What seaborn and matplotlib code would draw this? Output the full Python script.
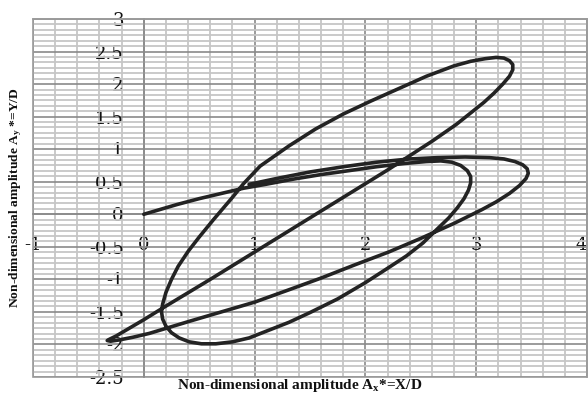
import matplotlib
matplotlib.use("Agg")
import matplotlib.pyplot as plt
import pandas as pd
import seaborn as sns
from matplotlib.ticker import FixedLocator, FixedFormatter, AutoMinorLocator
from matplotlib.patches import Rectangle

# Trajectory (in drawing order)
x_vals = [0, 0.15, 0.3, 0.5, 0.7, 0.9, 1.1, 1.35, 1.6, 1.85, 2.1, 2.35, 2.55, 2.68, 2.78, 2.86, 2.92, 2.95,
          2.95, 2.93, 2.89, 2.83, 2.75, 2.64, 2.52, 2.37, 2.2, 2.0, 1.75, 1.5, 1.31, 1.1, 0.95, 0.8, 0.65,
          0.52, 0.41, 0.32, 0.25, 0.2, 0.17, 0.16, 0.17, 0.2, 0.25, 0.31, 0.4, 0.5, 0.63, 0.8, 0.9, 1.05,
          1.31, 1.55, 1.8, 2.05, 2.3, 2.55, 2.8, 2.95, 3.08, 3.18, 3.25, 3.3, 3.33, 3.33, 3.3, 3.24, 3.16,
          3.07, 2.96, 2.82, 2.6, 2.2, 1.8, 1.4, 1.0, 0.6, 0.2, 0.0, -0.15, -0.25, -0.31, -0.33, -0.3, -0.22,
          -0.1, 0.05, 0.4, 0.7, 1.0, 1.31, 1.6, 1.9, 2.21, 2.5, 2.8, 3.05, 3.18, 3.3, 3.39, 3.45, 3.47,
          3.46, 3.42, 3.35, 3.25, 3.12, 2.9, 2.65, 2.4, 2.1, 1.8, 1.5, 1.2, 0.95]
y_vals = [0, 0.075, 0.15, 0.24, 0.32, 0.40, 0.46, 0.54, 0.61, 0.67, 0.73, 0.78, 0.81, 0.82, 0.80, 0.75, 0.67, 0.58,
          0.48, 0.37, 0.24, 0.10, -0.06, -0.24, -0.44, -0.64, -0.83, -1.05, -1.3, -1.51, -1.66, -1.8, -1.9, -1.96, -1.99,
          -1.99, -1.96, -1.9, -1.82, -1.72, -1.61, -1.5, -1.38, -1.2, -1.0, -0.8, -0.57, -0.35, -0.08, 0.26, 0.47, 0.74,
          1.05, 1.31, 1.54, 1.74, 1.93, 2.12, 2.28, 2.35, 2.39, 2.41, 2.40, 2.36, 2.30, 2.22, 2.12, 2.0, 1.86,
          1.72, 1.57, 1.38, 1.12, 0.68, 0.26, -0.16, -0.58, -1.0, -1.41, -1.62, -1.77, -1.87, -1.92, -1.94, -1.95, -1.93,
          -1.89, -1.83, -1.65, -1.5, -1.35, -1.16, -0.98, -0.78, -0.58, -0.37, -0.14, 0.07, 0.19, 0.32, 0.44, 0.55, 0.63,
          0.70, 0.76, 0.81, 0.85, 0.87, 0.88, 0.87, 0.85, 0.8, 0.73, 0.65, 0.55, 0.46]

x_ticks = [-1, 0, 1, 2, 3, 4]
x_tick_labels = ["-1", "0", "1", "2", "3", "4"]
y_ticks = [-2.5, -2, -1.5, -1, -0.5, 0, 0.5, 1, 1.5, 2, 2.5, 3]
y_tick_labels = ["-2.5", "-2", "-1.5", "-1", "-0.5", "0", "0.5", "1", "1.5", "2", "2.5", "3"]

x_title = r"Non-dimensional amplitude $\mathbf{A_x}$*=X/D"
y_title = r"Non-dimensional amplitude $\mathbf{A_y}$ *=Y/D"

sns.set_theme(style="white")
plt.rcParams["font.family"] = ["DejaVu Serif"]
plt.rcParams["mathtext.fontset"] = "custom"
plt.rcParams["mathtext.rm"] = "Liberation Serif"
plt.rcParams["mathtext.bf"] = "Liberation Serif:bold"
plt.rcParams["mathtext.it"] = "Liberation Serif:italic"

fig = plt.figure(figsize=(5.88, 3.96), dpi=100)
ax = fig.add_axes([33 / 588, 19 / 396, 554 / 588, 358 / 396])

df = pd.DataFrame({"x": x_vals, "y": y_vals})
sns.lineplot(data=df, x="x", y="y", sort=False, estimator=None, color="#232323",
             linewidth=2.6, ax=ax, zorder=5)

ax.set_xlim(-1, 4)
ax.set_ylim(-2.5, 3)
ax.xaxis.set_major_locator(FixedLocator(x_ticks))
ax.xaxis.set_major_formatter(FixedFormatter(x_tick_labels))
ax.yaxis.set_major_locator(FixedLocator(y_ticks))
ax.yaxis.set_major_formatter(FixedFormatter(y_tick_labels))
ax.xaxis.set_minor_locator(AutoMinorLocator(5))
ax.yaxis.set_minor_locator(AutoMinorLocator(6))

ax.set_axisbelow(True)
ax.grid(which="major", color="#8a8a8a", linewidth=1.2)
ax.grid(which="minor", color="#c6c6c6", linewidth=1.3)

for s in ["left", "bottom"]:
    ax.spines[s].set_position(("data", 0))
    ax.spines[s].set_color("#8a8a8a")
    ax.spines[s].set_linewidth(1.2)
for s in ["top", "right"]:
    ax.spines[s].set_color("#9a9a9a")
    ax.spines[s].set_linewidth(1.2)
ax.add_patch(Rectangle((0, 0), 1, 1, transform=ax.transAxes, fill=False,
                       edgecolor="#9a9a9a", linewidth=1.2, clip_on=False, zorder=1))

ax.tick_params(axis="both", which="both", length=0)
ax.tick_params(axis="y", pad=14.5, labelsize=13)
ax.tick_params(axis="x", pad=16, labelsize=13)
for lab in ax.get_xticklabels() + ax.get_yticklabels():
    lab.set_color("#111111")
ax.get_xticklabels()[-1].set_horizontalalignment("right")

ax.set_xlabel(x_title, fontfamily="Liberation Serif", fontweight="bold", fontsize=11, color="#111111")
ax.set_ylabel(y_title, fontfamily="Liberation Serif", fontweight="bold", fontsize=9.7, color="#111111")
ax.xaxis.set_label_coords(0.482, 0.0)
ax.yaxis.set_label_coords(-0.016, 0.5)

fig.savefig("out.png", dpi=100)
